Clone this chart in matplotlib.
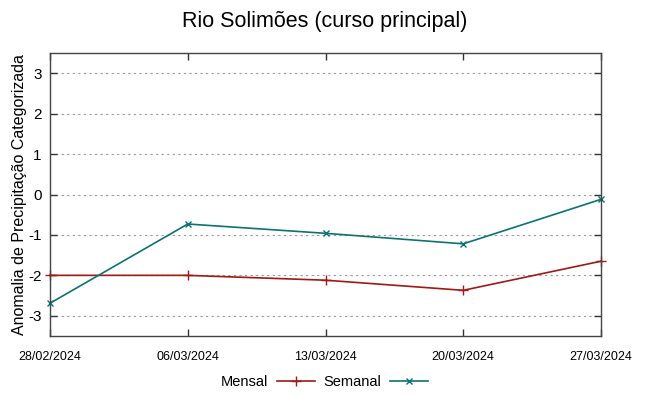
import datetime as dt
import matplotlib
matplotlib.use("Agg")
import matplotlib.pyplot as plt

plt.rcParams['font.family'] = ['Liberation Sans', 'DejaVu Sans']
plt.rcParams['axes.unicode_minus'] = False

# values
datas = ["28/02/2024", "06/03/2024", "13/03/2024", "20/03/2024", "27/03/2024"]
mensal = [-2.0, -2.0, -2.12, -2.37, -1.65]
semanal = [-2.69, -0.73, -0.96, -1.22, -0.12]
yticks = [-3, -2, -1, 0, 1, 2, 3]

x = [dt.datetime.strptime(d, "%d/%m/%Y") for d in datas]

fig = plt.figure(figsize=(6.49, 3.96), dpi=100)
ax = fig.add_axes([50/649, 1 - 336/396, 551/649, 283/396])

ax.plot(x, mensal, color='#a01818', linewidth=1.2, marker='+', markersize=7,
        markeredgewidth=1.0, label='Mensal', clip_on=False)
ax.plot(x, semanal, color='#0b7373', linewidth=1.2, marker='x', markersize=5,
        markeredgewidth=1.0, label='Semanal', clip_on=False)

ax.set_xlim(x[0], x[-1])
ax.set_ylim(-3.5, 3.5)
ax.set_xticks(x)
ax.set_xticklabels(datas, fontsize=9)
ax.set_yticks(yticks)
ax.tick_params(axis='y', labelsize=11)
ax.tick_params(direction='in', length=5, width=1, top=True, right=True,
               color='#333333', pad=6)
ax.tick_params(axis='x', pad=11)
ax.yaxis.grid(True, linestyle=(0, (2, 3)), color='#999999', linewidth=0.8)
for s in ax.spines.values():
    s.set_color('#444444')
    s.set_linewidth(1.0)

ax.set_ylabel('Anomalia de Precipitação Categorizada', fontsize=11.5, labelpad=1)
fig.suptitle('Rio Solimões (curso principal)', fontsize=15.5, y=0.972)

fig.legend(loc='center', bbox_to_anchor=(0.5, 1 - 382/396), ncol=2,
           markerfirst=False, frameon=False, fontsize=10.5, handlelength=2.6,
           columnspacing=0.6, handletextpad=0.6)

fig.savefig('out.png', dpi=100)
